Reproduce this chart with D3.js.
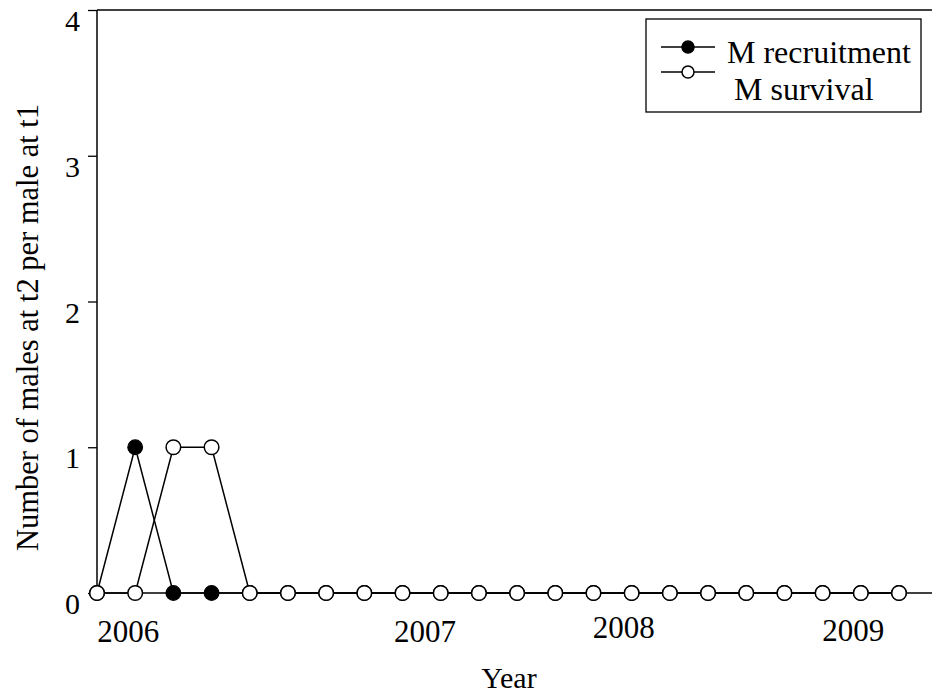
<!DOCTYPE html>
<html>
<head>
<meta charset="utf-8">
<script src="https://cdn.jsdelivr.net/npm/d3@7"></script>
<style>
  html, body { margin: 0; padding: 0; background: #fff; }
  svg text { font-family: "Liberation Serif", "Times New Roman", serif; fill: #000; }
</style>
</head>
<body>
<svg id="chart" width="932" height="698"></svg>
<script>
// Sampling occasions (index along the time axis)
const occasions = d3.range(22);

// Males at t2 per male at t1
const recruitment = [0, 1, 0, 0, 0, 0, 0, 0, 0, 0, 0, 0, 0, 0, 0, 0, 0, 0, 0, 0, 0, 0];
const survival    = [0, 0, 1, 1, 0, 0, 0, 0, 0, 0, 0, 0, 0, 0, 0, 0, 0, 0, 0, 0, 0, 0];

// Y tick values
const yTicks = [0, 1, 2, 3, 4];

// Year labels and where they sit along the occasion axis
const yearLabels = ["2006", "2007", "2008", "2009"];
const yearLabelPos = [0.82, 8.59, 13.79, 19.8];
const yearLabelLift = [0, 0, 4, 1];

const seriesNames = ["M recruitment", "M survival"];

const svg = d3.select("#chart");
const W = 932;
const plotLeft = 97, plotTop = 10, plotBottom = 593;

const x = d3.scaleLinear().domain([0, 21]).range([plotLeft, 899]);
const y = d3.scaleLinear().domain([0, 4]).range([plotBottom, plotTop]);

// Frame: left axis, top line, bottom line
svg.append("line").attr("x1", plotLeft).attr("x2", plotLeft).attr("y1", plotTop).attr("y2", plotBottom)
  .attr("stroke", "#000").attr("stroke-width", 1.5);
svg.append("line").attr("x1", plotLeft).attr("x2", W).attr("y1", plotTop).attr("y2", plotTop)
  .attr("stroke", "#000").attr("stroke-width", 1.5);
svg.append("line").attr("x1", plotLeft).attr("x2", W).attr("y1", plotBottom).attr("y2", plotBottom)
  .attr("stroke", "#000").attr("stroke-width", 1.5);

// Y axis ticks and labels (labels hang just below their tick)
const yAxis = d3.axisLeft(y).tickValues(yTicks).tickSize(9).tickPadding(8).tickFormat(d3.format("d"));
const gy = svg.append("g").attr("transform", `translate(${plotLeft},0)`).call(yAxis);
gy.select(".domain").remove();
gy.selectAll(".tick line").attr("stroke", "#000").attr("stroke-width", 1.3);
gy.selectAll(".tick text")
  .attr("font-family", "Liberation Serif, serif")
  .attr("font-size", 30)
  .attr("dy", 20.5)
  .attr("x", -17);

// Y title
svg.append("text")
  .attr("transform", `translate(38,${(plotTop + plotBottom) / 2 + 26}) rotate(-90)`)
  .attr("text-anchor", "middle")
  .attr("font-size", 30.5)
  .text("Number of males at t2 per male at t1");

// Year labels
svg.selectAll("text.year").data(yearLabels).enter().append("text")
  .attr("class", "year")
  .attr("x", (d, i) => x(yearLabelPos[i]))
  .attr("y", (d, i) => 642 - yearLabelLift[i])
  .attr("text-anchor", "middle")
  .attr("font-size", 31)
  .text(d => d);

svg.append("text")
  .attr("x", 509).attr("y", 688)
  .attr("text-anchor", "middle")
  .attr("font-size", 30)
  .text("Year");

// Series
const line = d3.line().x((d, i) => x(occasions[i])).y(d => y(d));
const r = 7.3;

svg.append("path").datum(recruitment).attr("d", line)
  .attr("fill", "none").attr("stroke", "#000").attr("stroke-width", 1.5);
svg.append("path").datum(survival).attr("d", line)
  .attr("fill", "none").attr("stroke", "#000").attr("stroke-width", 1.5);

svg.selectAll("circle.rec").data(recruitment).enter().append("circle")
  .attr("class", "rec")
  .attr("cx", (d, i) => x(occasions[i])).attr("cy", d => y(d)).attr("r", r)
  .attr("fill", "#000").attr("stroke", "#000").attr("stroke-width", 1.3);
svg.selectAll("circle.surv").data(survival).enter().append("circle")
  .attr("class", "surv")
  .attr("cx", (d, i) => x(occasions[i])).attr("cy", d => y(d)).attr("r", r)
  .attr("fill", "#fff").attr("stroke", "#000").attr("stroke-width", 1.5);

// Legend
const lg = svg.append("g");
lg.append("rect").attr("x", 646).attr("y", 19).attr("width", 275).attr("height", 93)
  .attr("fill", "#fff").attr("stroke", "#000").attr("stroke-width", 1.3);
const legendRows = [
  { name: seriesNames[0], yy: 47, fill: "#000", tx: 727, ty: 63 },
  { name: seriesNames[1], yy: 72, fill: "#fff", tx: 734, ty: 100 }
];
legendRows.forEach(row => {
  lg.append("line").attr("x1", 661).attr("x2", 715).attr("y1", row.yy).attr("y2", row.yy)
    .attr("stroke", "#000").attr("stroke-width", 1.5);
  lg.append("circle").attr("cx", 688).attr("cy", row.yy).attr("r", 6)
    .attr("fill", row.fill).attr("stroke", "#000").attr("stroke-width", 1.5);
  lg.append("text").attr("x", row.tx).attr("y", row.ty).attr("font-size", 32).text(row.name);
});
</script>
</body>
</html>
